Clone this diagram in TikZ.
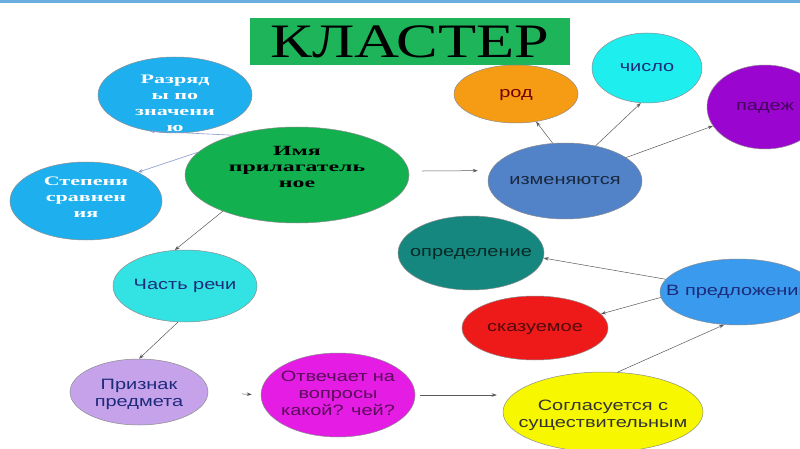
\documentclass[tikz,border=0pt]{standalone}
\usepackage{fontspec}
\setmainfont[FakeStretch=1.33]{Liberation Sans}
\newfontfamily\titlefont[FakeStretch=1.3]{Liberation Serif}
\newfontfamily\boldser[FakeStretch=1.7]{Liberation Serif}
\usetikzlibrary{shapes.geometric,arrows.meta}

\definecolor{topbar}{HTML}{6AAEE0}
\definecolor{titlegreen}{HTML}{1DB45A}
\definecolor{skyblue}{HTML}{1EB0EE}
\definecolor{mainGreen}{HTML}{12B04F}
\definecolor{partcyan}{HTML}{33E3E3}
\definecolor{lilac}{HTML}{C6A2EB}
\definecolor{magent}{HTML}{E41CE4}
\definecolor{yellowb}{HTML}{F7F700}
\definecolor{redb}{HTML}{EE1A1A}
\definecolor{tealb}{HTML}{15877E}
\definecolor{blueb}{HTML}{3A9AEE}
\definecolor{steelb}{HTML}{5282C8}
\definecolor{orangeb}{HTML}{F59B14}
\definecolor{cyanb}{HTML}{1EEEEE}
\definecolor{purpleb}{HTML}{9A05CF}
\definecolor{navytext}{HTML}{1C2B7A}
\definecolor{lightlink}{HTML}{8A9AD0}

\newcommand{\txt}[2][0pt]{\raisebox{\dimexpr#1-.25em\relax}[0pt][0pt]{\makebox[0pt]{\begin{tabular}{@{}c@{}}#2\end{tabular}}}}

\begin{document}
\begin{tikzpicture}[x=1pt,y=-1pt,
  bub/.style={ellipse, draw=black!45, line width=.5pt, inner sep=0pt},
  sans/.style={font=\fontsize{15}{17}\selectfont},
  serb/.style={text=white, font=\boldser\bfseries\fontsize{13}{16}\selectfont},
  link/.style={draw=black!65, line width=.5pt, -{Stealth[length=5pt,width=3.5pt]}},
  link2/.style={draw=lightlink, line width=.6pt, -{Stealth[length=5pt,width=3.5pt]}}]
\useasboundingbox (0,0) rectangle (800,449);
\fill[white] (0,0) rectangle (800,449);
\fill[topbar] (0,0) rectangle (800,3);

\node[fill=titlegreen, minimum width=320pt, minimum height=47pt, inner sep=0pt,
  font=\titlefont\fontsize{48}{50}\selectfont] (title) at (410,42) {КЛАСТЕР};

\node[bub, fill=skyblue, minimum width=154pt, minimum height=76pt, serb] (razr) at (175,95)
  {\txt[-9pt]{Разряд\\ы по\\значени\\ю}};
\node[bub, fill=mainGreen, minimum width=224pt, minimum height=96pt, serb, text=black,
  font=\boldser\bfseries\fontsize{14}{16}\selectfont] (imya) at (297,175)
  {\txt[7pt]{Имя\\прилагатель\\ное}};
\node[bub, fill=skyblue, minimum width=152pt, minimum height=78pt, serb] (stepeni) at (86,201)
  {\txt[3pt]{Степени\\сравнен\\ия}};
\node[bub, fill=partcyan, minimum width=144pt, minimum height=72pt, sans, text=navytext] (chast) at (185,286)
  {\txt{Часть речи}};
\node[bub, fill=lilac, minimum width=138pt, minimum height=66pt, sans, text=navytext] (priz) at (139,392)
  {\txt[-2pt]{Признак\\предмета}};
\node[bub, fill=magent, minimum width=154pt, minimum height=84pt, sans, text=black!60!magent] (otv) at (338,395)
  {\txt{Отвечает на\\вопросы\\какой? чей?}};
\node[bub, fill=yellowb, minimum width=200pt, minimum height=80pt, sans, text=black!80] (sogl) at (603,412)
  {\txt[-3pt]{Согласуется с\\существительным}};
\node[bub, fill=redb, minimum width=146pt, minimum height=64pt, sans, text=black!65!redb] (skaz) at (535,328)
  {\txt{сказуемое}};
\node[bub, fill=tealb, minimum width=146pt, minimum height=74pt, sans, text=black!70!tealb] (opr) at (471,253)
  {\txt{определение}};
\node[bub, fill=blueb, minimum width=156pt, minimum height=66pt, sans, text=navytext] (vpred) at (738,292)
  {\txt{В предложении}};
\node[bub, fill=steelb, minimum width=154pt, minimum height=76pt, sans, text=black!70!steelb] (izm) at (565,181)
  {\txt{изменяются}};
\node[bub, fill=orangeb, minimum width=124pt, minimum height=58pt, sans, text=black!55!red] (rod) at (516,94)
  {\txt{род}};
\node[bub, fill=cyanb, minimum width=110pt, minimum height=70pt, sans, text=navytext] (chislo) at (647,68)
  {\txt{число}};
\node[bub, fill=purpleb, minimum width=116pt, minimum height=84pt, sans, text=black!55!purpleb] (padezh) at (765,107)
  {\txt{падеж}};

\draw[link2] (imya.148) -- (razr.235);
\draw[link2] (imya.167) -- (stepeni.29);
\draw[link] (imya.206) -- (chast.106);
\draw[link, shorten <=13pt, shorten >=13pt] (imya.2) -- (izm.172);
\draw[link] (izm.108) -- (rod.306);
\draw[link] (izm.49) -- (chislo.260);
\draw[link] (izm.21) -- (padezh.200);
\draw[link] (vpred.170) -- (opr.-4);
\draw[link] (vpred.184) -- (skaz.12);
\draw[link] (sogl.70) -- (vpred.247);
\draw[link, shorten <=5pt, shorten >=6pt] (otv.east) -- (otv.east -| sogl.west);
\draw[link] (chast.259) -- (priz.90);
\draw[link, shorten <=34pt, shorten >=9pt] (priz.east) -- (otv.west);
\end{tikzpicture}
\end{document}
